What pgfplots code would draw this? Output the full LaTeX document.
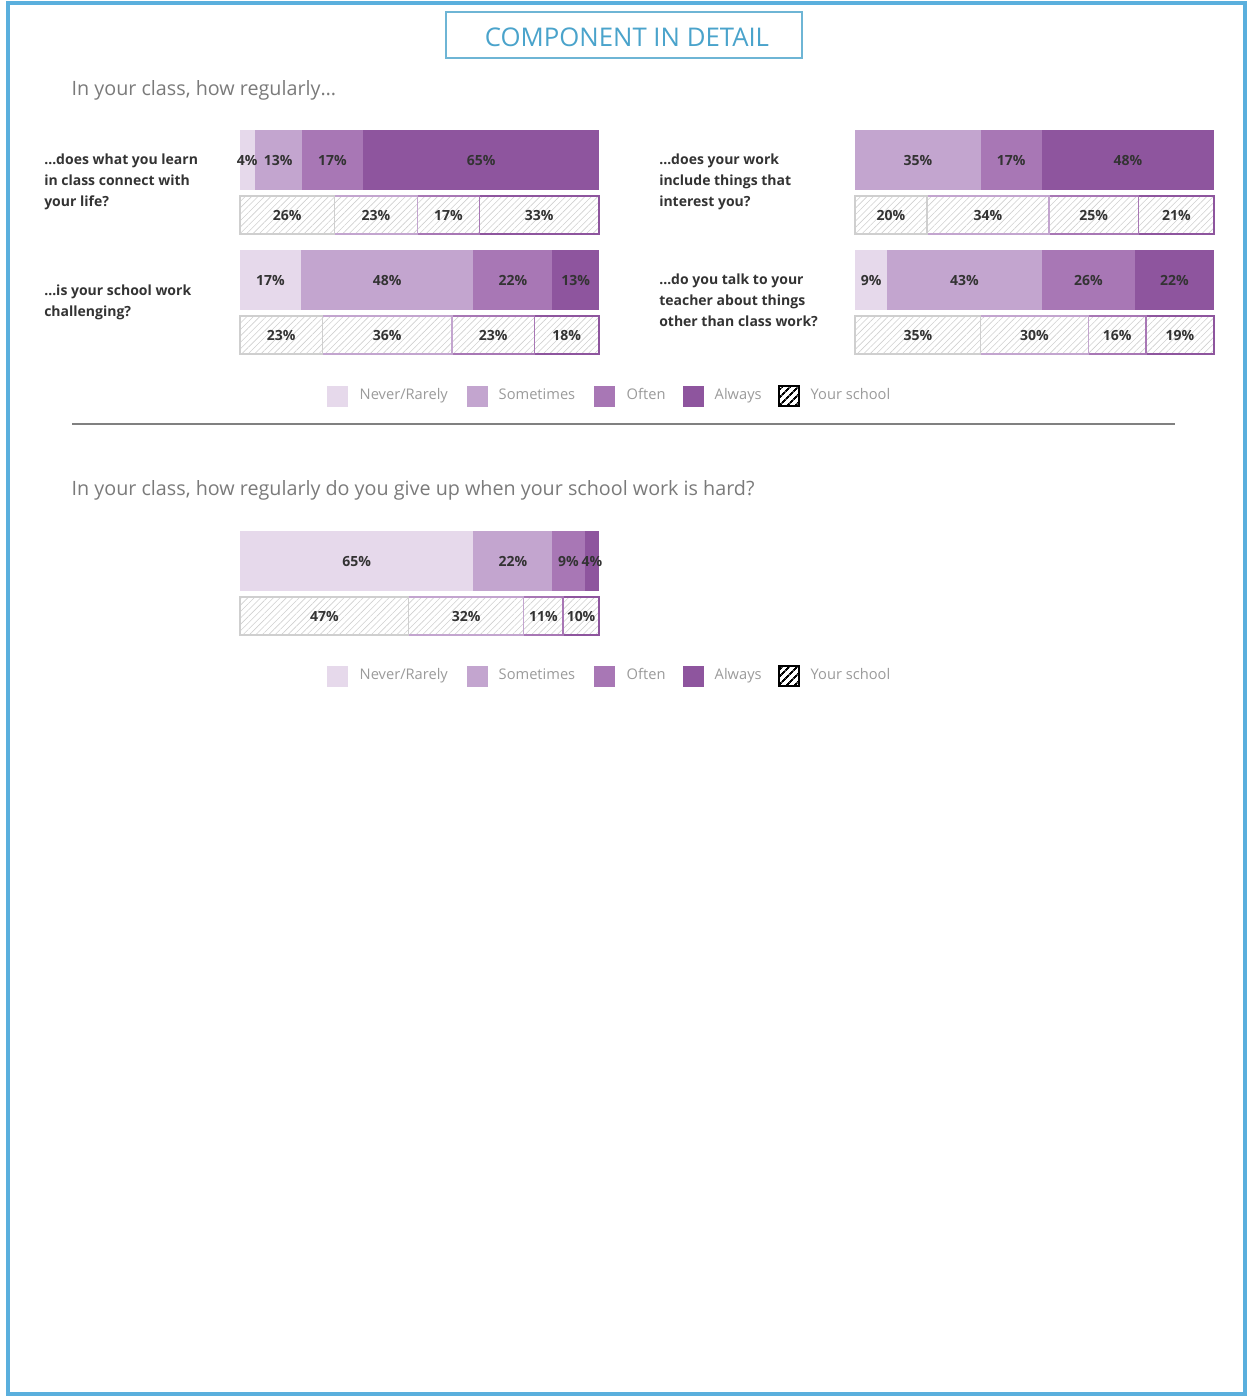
\documentclass[border=0pt]{standalone}
\usepackage{pgfplots}
\pgfplotsset{compat=1.18}
\usepackage{fontspec}
\setmainfont{Open Sans}
\usetikzlibrary{patterns.meta}

\definecolor{never}{HTML}{E6D9EB}
\definecolor{sometimes}{HTML}{C3A5CF}
\definecolor{often}{HTML}{A877B5}
\definecolor{always}{HTML}{8E559E}
\definecolor{framec}{HTML}{5AAFDD}
\definecolor{titlec}{HTML}{4AA3CB}
\definecolor{ink}{HTML}{333333}
\definecolor{hatchc}{HTML}{CFCFCF}
\definecolor{headc}{HTML}{7A7A7A}
\definecolor{legc}{HTML}{9A9A9A}

\newcommand{\fs}[1]{\fontsize{#1}{#1}\selectfont}

\pgfplotsset{
  row/.style={
    xbar stacked, hide axis, scale only axis, clip=false,
    width=269.25pt, xmin=0, ymin=-0.5, ymax=0.5,
    anchor=north west,
    visualization depends on={rawx \as \rawx},
    nodes near coords={\pgfmathprintnumber[assume math mode=true]{\rawx}\%},
    every node near coord/.append style={anchor=center, inner sep=0pt,
      font=\fs{10.5}\bfseries, text=ink},
  },
  solid/.style={row, height=45pt, bar width=45pt},
  hatched/.style={row, height=28.5pt, bar width=28.5pt},
  sbar/.style={fill=#1, draw=none},
  hbar/.style={draw=#1, line width=1.1pt,
    pattern={Lines[angle=45,distance=3.4pt,line width=0.45pt]}, pattern color=hatchc},
}

\newcommand{\legendrow}[1]{%
  \fill[never] (327,#1-10.5) rectangle ++(21,21);
  \node[anchor=mid west, text=legc, font=\fs{11}] at (355,#1) {Never/Rarely};
  \fill[sometimes] (467,#1-10.5) rectangle ++(21,21);
  \node[anchor=mid west, text=legc, font=\fs{11}] at (494,#1) {Sometimes};
  \fill[often] (594,#1-10.5) rectangle ++(21,21);
  \node[anchor=mid west, text=legc, font=\fs{11}] at (622,#1) {Often};
  \fill[always] (683,#1-10.5) rectangle ++(21,21);
  \node[anchor=mid west, text=legc, font=\fs{11}] at (710,#1) {Always};
  \draw[black, line width=1.4pt, pattern={Lines[angle=45,distance=4pt,line width=1.5pt]}, pattern color=black]
    (779,#1-10) rectangle ++(20,20);
  \node[anchor=mid west, text=legc, font=\fs{11}] at (806,#1) {Your school};
}

\begin{document}
\begin{tikzpicture}
\begin{scope}[x=0.75pt, y=-0.75pt]
  \useasboundingbox (0,0) rectangle (1248,1397);
  \draw[framec, line width=2.5pt] (8,3) rectangle (1245,1394);
  \draw[titlec!80, line width=1.5pt] (446,12) rectangle (802,58);
  \node[text=titlec, font=\fs{19.3}] at (627,37) {COMPONENT IN DETAIL};
  \node[anchor=mid west, text=headc, font=\fs{14.8}] at (67,92) {In your class, how regularly…};
  \node[anchor=mid west, text=headc, font=\fs{14.8}] at (67,492) {In your class, how regularly do you give up when your school work is hard?};

  \begin{scope}[every node/.style={anchor=mid west, text=ink, font=\fs{10.5}\bfseries, inner sep=0pt}]
    \node at (44,161) {…does what you learn};
    \node at (44,182) {in class connect with};
    \node at (44,203) {your life?};
    \node at (44,292) {…is your school work};
    \node at (44,313) {challenging?};
    \node at (659,161) {…does your work};
    \node at (659,182) {include things that};
    \node at (659,203) {interest you?};
    \node at (659,281) {…do you talk to your};
    \node at (659,302) {teacher about things};
    \node at (659,323) {other than class work?};
  \end{scope}

  \legendrow{396}
  \draw[gray, line width=0.8pt] (72,424) -- (1175,424);
  \legendrow{676}
\end{scope}

% connect with your life
\begin{axis}[solid, at={(180pt,-97.5pt)}, xmax=99]
  \addplot[sbar=never] coordinates {(4,0)};
  \addplot[sbar=sometimes] coordinates {(13,0)};
  \addplot[sbar=often] coordinates {(17,0)};
  \addplot[sbar=always] coordinates {(65,0)};
\end{axis}
\begin{axis}[hatched, at={(180pt,-147pt)}, xmax=99]
  \addplot[hbar=hatchc] coordinates {(26,0)};
  \addplot[hbar=sometimes] coordinates {(23,0)};
  \addplot[hbar=often] coordinates {(17,0)};
  \addplot[hbar=always] coordinates {(33,0)};
\end{axis}

% school work challenging
\begin{axis}[solid, at={(180pt,-187.5pt)}, xmax=100]
  \addplot[sbar=never] coordinates {(17,0)};
  \addplot[sbar=sometimes] coordinates {(48,0)};
  \addplot[sbar=often] coordinates {(22,0)};
  \addplot[sbar=always] coordinates {(13,0)};
\end{axis}
\begin{axis}[hatched, at={(180pt,-237pt)}, xmax=100]
  \addplot[hbar=hatchc] coordinates {(23,0)};
  \addplot[hbar=sometimes] coordinates {(36,0)};
  \addplot[hbar=often] coordinates {(23,0)};
  \addplot[hbar=always] coordinates {(18,0)};
\end{axis}

% things that interest you
\begin{axis}[solid, at={(641.25pt,-97.5pt)}, xmax=100]
  \addplot[sbar=sometimes] coordinates {(35,0)};
  \addplot[sbar=often] coordinates {(17,0)};
  \addplot[sbar=always] coordinates {(48,0)};
\end{axis}
\begin{axis}[hatched, at={(641.25pt,-147pt)}, xmax=100]
  \addplot[hbar=hatchc] coordinates {(20,0)};
  \addplot[hbar=sometimes] coordinates {(34,0)};
  \addplot[hbar=often] coordinates {(25,0)};
  \addplot[hbar=always] coordinates {(21,0)};
\end{axis}

% talk to your teacher
\begin{axis}[solid, at={(641.25pt,-187.5pt)}, xmax=100]
  \addplot[sbar=never] coordinates {(9,0)};
  \addplot[sbar=sometimes] coordinates {(43,0)};
  \addplot[sbar=often] coordinates {(26,0)};
  \addplot[sbar=always] coordinates {(22,0)};
\end{axis}
\begin{axis}[hatched, at={(641.25pt,-237pt)}, xmax=100]
  \addplot[hbar=hatchc] coordinates {(35,0)};
  \addplot[hbar=sometimes] coordinates {(30,0)};
  \addplot[hbar=often] coordinates {(16,0)};
  \addplot[hbar=always] coordinates {(19,0)};
\end{axis}

% give up when work is hard
\begin{axis}[solid, at={(180pt,-398.25pt)}, xmax=100]
  \addplot[sbar=never] coordinates {(65,0)};
  \addplot[sbar=sometimes] coordinates {(22,0)};
  \addplot[sbar=often] coordinates {(9,0)};
  \addplot[sbar=always] coordinates {(4,0)};
\end{axis}
\begin{axis}[hatched, at={(180pt,-447.75pt)}, xmax=100]
  \addplot[hbar=hatchc] coordinates {(47,0)};
  \addplot[hbar=sometimes] coordinates {(32,0)};
  \addplot[hbar=often] coordinates {(11,0)};
  \addplot[hbar=always] coordinates {(10,0)};
\end{axis}
\end{tikzpicture}
\end{document}
